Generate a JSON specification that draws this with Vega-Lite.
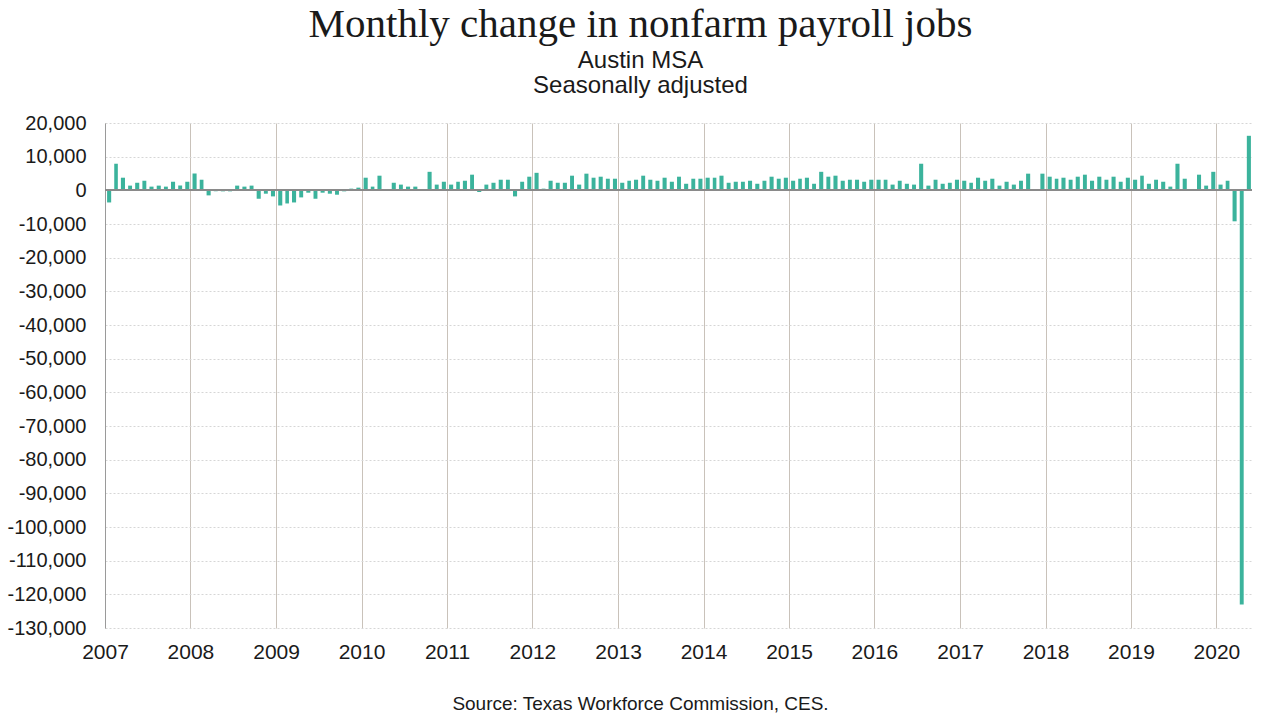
{
  "$schema": "https://vega.github.io/schema/vega-lite/v6.json",
  "width": 1147,
  "height": 505,
  "autosize": "none",
  "padding": {"left": 105, "top": 123, "right": 28, "bottom": 92},
  "background": "white",
  "config": {"view": {"stroke": null}},
  "title": {
    "text": "Monthly change in nonfarm payroll jobs",
    "subtitle": ["Austin MSA", "Seasonally adjusted"],
    "font": "Liberation Serif",
    "fontSize": 41,
    "fontWeight": "normal",
    "color": "#1a1a1a",
    "subtitleFont": "Liberation Sans",
    "subtitleFontSize": 24,
    "subtitleColor": "#1a1a1a",
    "subtitleLineHeight": 25,
    "subtitlePadding": 3,
    "anchor": "middle",
    "dx": -38,
    "offset": 14
  },
  "data": {"values": [
    {"date": "2007-01-01", "change": -3600}, {"date": "2007-02-01", "change": 7900}, {"date": "2007-03-01", "change": 3750}, {"date": "2007-04-01", "change": 1400}, {"date": "2007-05-01", "change": 2250}, {"date": "2007-06-01", "change": 2850}, {"date": "2007-07-01", "change": 1100}, {"date": "2007-08-01", "change": 1400}, {"date": "2007-09-01", "change": 1100}, {"date": "2007-10-01", "change": 2550}, {"date": "2007-11-01", "change": 1400}, {"date": "2007-12-01", "change": 2550},
    {"date": "2008-01-01", "change": 5000}, {"date": "2008-02-01", "change": 3150}, {"date": "2008-03-01", "change": -1500}, {"date": "2008-04-01", "change": -300}, {"date": "2008-05-01", "change": -300}, {"date": "2008-06-01", "change": -300}, {"date": "2008-07-01", "change": 1400}, {"date": "2008-08-01", "change": 1100}, {"date": "2008-09-01", "change": 1400}, {"date": "2008-10-01", "change": -2500}, {"date": "2008-11-01", "change": -1000}, {"date": "2008-12-01", "change": -1800},
    {"date": "2009-01-01", "change": -4500}, {"date": "2009-02-01", "change": -3900}, {"date": "2009-03-01", "change": -3600}, {"date": "2009-04-01", "change": -2100}, {"date": "2009-05-01", "change": -700}, {"date": "2009-06-01", "change": -2500}, {"date": "2009-07-01", "change": -700}, {"date": "2009-08-01", "change": -1000}, {"date": "2009-09-01", "change": -1300}, {"date": "2009-10-01", "change": -300}, {"date": "2009-11-01", "change": 500}, {"date": "2009-12-01", "change": 800},
    {"date": "2010-01-01", "change": 3750}, {"date": "2010-02-01", "change": 1100}, {"date": "2010-03-01", "change": 4350}, {"date": "2010-04-01", "change": 0}, {"date": "2010-05-01", "change": 2250}, {"date": "2010-06-01", "change": 1700}, {"date": "2010-07-01", "change": 1100}, {"date": "2010-08-01", "change": 1100}, {"date": "2010-09-01", "change": 0}, {"date": "2010-10-01", "change": 5500}, {"date": "2010-11-01", "change": 1700}, {"date": "2010-12-01", "change": 2550},
    {"date": "2011-01-01", "change": 1700}, {"date": "2011-02-01", "change": 2550}, {"date": "2011-03-01", "change": 2850}, {"date": "2011-04-01", "change": 4650}, {"date": "2011-05-01", "change": -500}, {"date": "2011-06-01", "change": 1700}, {"date": "2011-07-01", "change": 2250}, {"date": "2011-08-01", "change": 3150}, {"date": "2011-09-01", "change": 3150}, {"date": "2011-10-01", "change": -1800}, {"date": "2011-11-01", "change": 2550}, {"date": "2011-12-01", "change": 4050},
    {"date": "2012-01-01", "change": 5200}, {"date": "2012-02-01", "change": 500}, {"date": "2012-03-01", "change": 2850}, {"date": "2012-04-01", "change": 2250}, {"date": "2012-05-01", "change": 2250}, {"date": "2012-06-01", "change": 4350}, {"date": "2012-07-01", "change": 1700}, {"date": "2012-08-01", "change": 4950}, {"date": "2012-09-01", "change": 3750}, {"date": "2012-10-01", "change": 4050}, {"date": "2012-11-01", "change": 3450}, {"date": "2012-12-01", "change": 3450},
    {"date": "2013-01-01", "change": 2250}, {"date": "2013-02-01", "change": 2850}, {"date": "2013-03-01", "change": 3150}, {"date": "2013-04-01", "change": 4350}, {"date": "2013-05-01", "change": 3150}, {"date": "2013-06-01", "change": 2850}, {"date": "2013-07-01", "change": 3750}, {"date": "2013-08-01", "change": 2550}, {"date": "2013-09-01", "change": 4050}, {"date": "2013-10-01", "change": 1950}, {"date": "2013-11-01", "change": 3450}, {"date": "2013-12-01", "change": 3450},
    {"date": "2014-01-01", "change": 3750}, {"date": "2014-02-01", "change": 3750}, {"date": "2014-03-01", "change": 4350}, {"date": "2014-04-01", "change": 2250}, {"date": "2014-05-01", "change": 2550}, {"date": "2014-06-01", "change": 2550}, {"date": "2014-07-01", "change": 2850}, {"date": "2014-08-01", "change": 1950}, {"date": "2014-09-01", "change": 2850}, {"date": "2014-10-01", "change": 4050}, {"date": "2014-11-01", "change": 3450}, {"date": "2014-12-01", "change": 3750},
    {"date": "2015-01-01", "change": 2850}, {"date": "2015-02-01", "change": 3450}, {"date": "2015-03-01", "change": 3750}, {"date": "2015-04-01", "change": 1950}, {"date": "2015-05-01", "change": 5500}, {"date": "2015-06-01", "change": 4050}, {"date": "2015-07-01", "change": 4350}, {"date": "2015-08-01", "change": 2850}, {"date": "2015-09-01", "change": 3150}, {"date": "2015-10-01", "change": 3150}, {"date": "2015-11-01", "change": 2550}, {"date": "2015-12-01", "change": 3150},
    {"date": "2016-01-01", "change": 3150}, {"date": "2016-02-01", "change": 3150}, {"date": "2016-03-01", "change": 1700}, {"date": "2016-04-01", "change": 2850}, {"date": "2016-05-01", "change": 1950}, {"date": "2016-06-01", "change": 1700}, {"date": "2016-07-01", "change": 7900}, {"date": "2016-08-01", "change": 1400}, {"date": "2016-09-01", "change": 3150}, {"date": "2016-10-01", "change": 1950}, {"date": "2016-11-01", "change": 2250}, {"date": "2016-12-01", "change": 3150},
    {"date": "2017-01-01", "change": 2850}, {"date": "2017-02-01", "change": 2250}, {"date": "2017-03-01", "change": 3750}, {"date": "2017-04-01", "change": 2850}, {"date": "2017-05-01", "change": 3450}, {"date": "2017-06-01", "change": 1400}, {"date": "2017-07-01", "change": 2550}, {"date": "2017-08-01", "change": 1700}, {"date": "2017-09-01", "change": 2850}, {"date": "2017-10-01", "change": 4950}, {"date": "2017-11-01", "change": 0}, {"date": "2017-12-01", "change": 4950},
    {"date": "2018-01-01", "change": 4050}, {"date": "2018-02-01", "change": 3450}, {"date": "2018-03-01", "change": 3750}, {"date": "2018-04-01", "change": 3150}, {"date": "2018-05-01", "change": 4050}, {"date": "2018-06-01", "change": 4650}, {"date": "2018-07-01", "change": 2850}, {"date": "2018-08-01", "change": 4050}, {"date": "2018-09-01", "change": 3150}, {"date": "2018-10-01", "change": 4050}, {"date": "2018-11-01", "change": 2550}, {"date": "2018-12-01", "change": 3750},
    {"date": "2019-01-01", "change": 3150}, {"date": "2019-02-01", "change": 4350}, {"date": "2019-03-01", "change": 1950}, {"date": "2019-04-01", "change": 3150}, {"date": "2019-05-01", "change": 2550}, {"date": "2019-06-01", "change": 1100}, {"date": "2019-07-01", "change": 7900}, {"date": "2019-08-01", "change": 3450}, {"date": "2019-09-01", "change": 0}, {"date": "2019-10-01", "change": 4650}, {"date": "2019-11-01", "change": 1400}, {"date": "2019-12-01", "change": 5500},
    {"date": "2020-01-01", "change": 1700}, {"date": "2020-02-01", "change": 2850}, {"date": "2020-03-01", "change": -9200}, {"date": "2020-04-01", "change": -123000}, {"date": "2020-05-01", "change": 16200}
  ]},
  "encoding": {
    "x": {
      "field": "date",
      "timeUnit": "utcyearmonth",
      "type": "temporal",
      "scale": {
        "type": "utc",
        "domain": [{"year": 2007, "month": 1, "date": 1, "utc": true}, {"year": 2020, "month": 6, "date": 1, "utc": true}],
        "nice": false
      },
      "axis": {
        "title": "Source: Texas Workforce Commission, CES.",
        "titleFont": "Liberation Sans",
        "titleFontSize": 19,
        "titleFontWeight": "normal",
        "titleColor": "#1a1a1a",
        "titleX": 535,
        "titleY": 66,
        "titleBaseline": "top",
        "titleAnchor": "middle",
        "titleAlign": "center",
        "format": "%Y",
        "tickCount": {"interval": "year", "step": 1},
        "labelFont": "Liberation Sans",
        "labelFontSize": 21,
        "labelColor": "#1a1a1a",
        "labelPadding": 13,
        "labelFlush": false,
        "labelOverlap": false,
        "ticks": false,
        "domain": false,
        "grid": true,
        "gridColor": "#c9c2ba",
        "gridWidth": 1
      }
    },
    "y": {
      "field": "change",
      "type": "quantitative",
      "scale": {"domain": [-130000, 20000], "nice": false, "zero": false},
      "axis": {
        "title": null,
        "values": [20000, 10000, 0, -10000, -20000, -30000, -40000, -50000, -60000, -70000, -80000, -90000, -100000, -110000, -120000, -130000],
        "labelExpr": "(datum.value < 0 ? '-' : '') + format(abs(datum.value), ',')",
        "labelFont": "Liberation Sans",
        "labelFontSize": 20,
        "labelColor": "#1a1a1a",
        "labelPadding": 19,
        "ticks": false,
        "domain": true,
        "domainColor": "#9a9a9a",
        "domainWidth": 1,
        "grid": true,
        "gridColor": "#d6d6d6",
        "gridDash": [2, 2],
        "gridWidth": 1
      }
    }
  },
  "layer": [
    {
      "mark": {"type": "bar", "color": "#3bb39c", "width": {"band": 0.7}}
    },
    {
      "mark": {"type": "rule", "color": "#8a8a8a", "strokeWidth": 1.5},
      "encoding": {"y": {"datum": 0}, "x": null}
    }
  ]
}
